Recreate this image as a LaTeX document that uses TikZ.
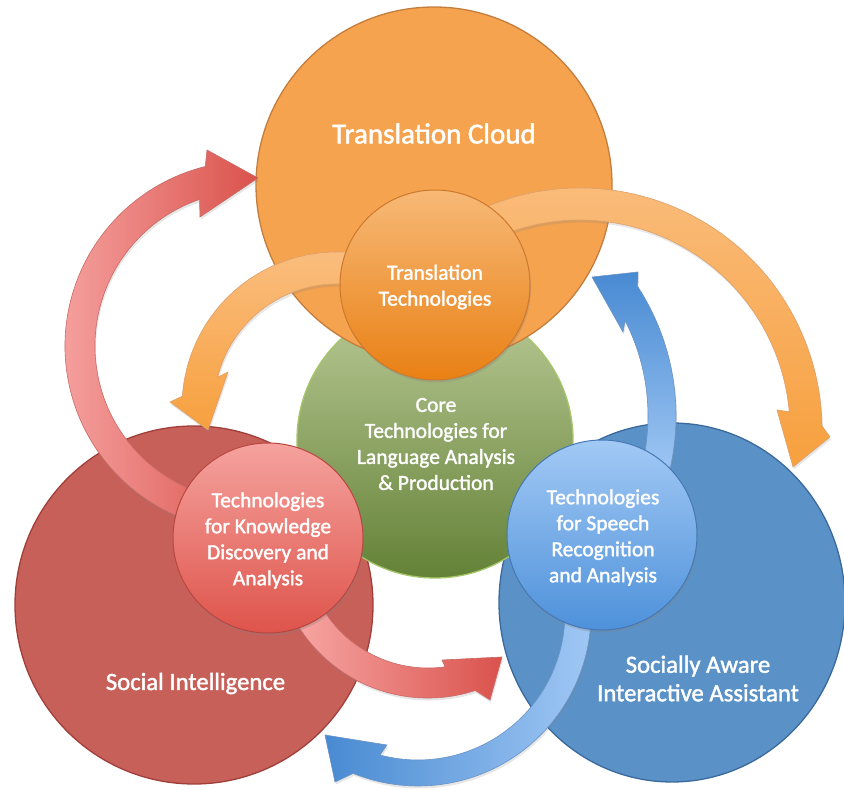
\documentclass[tikz,border=0pt]{standalone}
\usepackage{fontspec}
\setmainfont{Carlito}
\newfontfamily\diagfont{Carlito}[FakeBold=1.6]
\usetikzlibrary{shadows,shapes.geometric}
\definecolor{obig}{RGB}{246,163,80}
\definecolor{obigline}{RGB}{196,125,60}
\definecolor{osmtop}{RGB}{247,185,118}
\definecolor{osmbot}{RGB}{233,128,20}
\definecolor{osmline}{RGB}{205,120,45}
\definecolor{rbig}{RGB}{200,96,90}
\definecolor{rbigline}{RGB}{160,62,58}
\definecolor{rsmtop}{RGB}{245,162,158}
\definecolor{rsmbot}{RGB}{222,84,75}
\definecolor{rsmline}{RGB}{185,70,65}
\definecolor{bbig}{RGB}{90,146,200}
\definecolor{bbigline}{RGB}{60,105,155}
\definecolor{bsmtop}{RGB}{162,201,245}
\definecolor{bsmbot}{RGB}{78,145,218}
\definecolor{bsmline}{RGB}{70,120,180}
\definecolor{gtop}{RGB}{185,201,150}
\definecolor{gbot}{RGB}{100,130,55}
\definecolor{gline}{RGB}{165,198,105}
\definecolor{rarrL}{RGB}{248,168,166}
\definecolor{rarrD}{RGB}{218,82,76}
\definecolor{oarrL}{RGB}{250,190,128}
\definecolor{oarrD}{RGB}{247,160,62}
\definecolor{barrL}{RGB}{162,201,245}
\definecolor{barrD}{RGB}{72,138,210}
\begin{document}
\begin{tikzpicture}[x=1pt,y=1pt,
  disc/.style={circle, inner sep=0pt, line width=1.3pt},
  bigdisc/.style={disc, minimum size=356pt},
  smalldisc/.style={disc, minimum size=190pt, line width=1pt,
     drop shadow={opacity=0.3, shadow xshift=1pt, shadow yshift=-2.5pt}},
  bandarrow/.style={line width=0.6pt,
     drop shadow={opacity=0.2, shadow xshift=1pt, shadow yshift=-2.5pt}},
  bigtext/.style={text=white, font=\diagfont\fontsize{24.7}{28.5}\selectfont, align=center, inner sep=0pt},
  smalltext/.style={text=white, font=\diagfont\fontsize{21.5}{26}\selectfont, align=center, inner sep=0pt}
]
\useasboundingbox (0,0) rectangle (844,790);

% big circles
\node[bigdisc, fill=rbig, draw=rbigline, minimum size=358pt] (socint) at (194,185) {};
\node[ellipse, inner sep=0pt, line width=1.3pt, minimum width=346pt, minimum height=359pt, fill=bbig, draw=bbigline] (assist) at (672,187.5) {};
\node[disc, minimum size=276pt, top color=gtop, bottom color=gbot, draw=gline] (core) at (435,350) {};
\node[bigdisc, fill=obig, draw=obigline] (cloud) at (434,605) {};

% arrows
% red upper
\path[bandarrow, left color=rarrL, right color=rarrD, draw=rsmline!80]
  ([shift={(250,444)}]250:185pt) arc[start angle=250, end angle=104, radius=185pt]
  -- (207,640) -- (258,612) -- (200,573)
  -- ([shift={(250,444)}]109:155pt) arc[start angle=109, end angle=250, radius=155pt] -- cycle;
% orange left
\path[bandarrow, top color=oarrL, bottom color=oarrD, draw=osmline!70]
  ([shift={(337,383)}]80:155pt) arc[start angle=80, end angle=176, radius=155pt]
  -- (170,388) -- (208,360) -- (228,418)
  -- ([shift={(337,383)}]166:123pt) arc[start angle=166, end angle=80, radius=123pt] -- cycle;
% orange right
\path[bandarrow, top color=oarrL, bottom color=oarrD, draw=osmline!70]
  ([shift={(580,360)}]117:242pt) arc[start angle=117, end angle=1, radius=242pt]
  -- (830,353) -- (793,323) -- (777,380)
  -- ([shift={(580,360)}]5:210pt) arc[start angle=5, end angle=117, radius=210pt] -- cycle;
% blue up
\path[bandarrow, top color=barrD, bottom color=barrL, draw=bsmline!80]
  ([shift={(438,374)}]-16:238pt) arc[start angle=-16, end angle=33, radius=238pt]
  -- (638,518) -- (592,513) -- (623,458)
  -- ([shift={(438,374)}]27:210pt) arc[start angle=27, end angle=-16, radius=210pt] -- cycle;
% blue lower
\path[bandarrow, left color=barrD, right color=barrL, draw=bsmline!80]
  ([shift={(418,177)}]5:173pt) arc[start angle=5, end angle=-112, radius=173pt]
  -- (335,8) -- (325,55) -- (387,45)
  -- ([shift={(418,177)}]-105:147pt) arc[start angle=-105, end angle=5, radius=147pt] -- cycle;
% red lower
\path[bandarrow, left color=rarrL, right color=rarrD, draw=rsmline!80]
  ([shift={(428,245)}]205:153pt) arc[start angle=205, end angle=288, radius=153pt]
  -- (490,90) -- (502,133) -- (442,130)
  -- ([shift={(428,245)}]278:123pt) arc[start angle=278, end angle=205, radius=123pt] -- cycle;

% small circles
\node[smalldisc, top color=osmtop, bottom color=osmbot, draw=osmline] (transtech) at (435,505) {};
\node[smalldisc, top color=rsmtop, bottom color=rsmbot, draw=rsmline] (knowtech) at (268,252) {};
\node[smalldisc, top color=bsmtop, bottom color=bsmbot, draw=bsmline] (speechtech) at (602,255) {};

% texts
\node[bigtext, font=\diagfont\fontsize{29}{34}\selectfont] (cloudtxt) at (434,656.5) {Translation Cloud};
\node[bigtext] (socinttxt) at (195.5,106.5) {Social Intelligence};
\node[bigtext] (assisttxt) at (698,111.5) {Socially Aware\\Interactive Assistant};
\node[smalltext] (coretxt) at (436,346) {Core\\Technologies for\\Language Analysis\\\& Production};
\node[smalltext] (transtechtxt) at (435,503) {Translation\\Technologies};
\node[smalltext] (knowtechtxt) at (268,249.5) {Technologies\\for Knowledge\\Discovery and\\Analysis};
\node[smalltext] (speechtechtxt) at (603,252.5) {Technologies\\for Speech\\Recognition\\and Analysis};
\end{tikzpicture}
\end{document}
